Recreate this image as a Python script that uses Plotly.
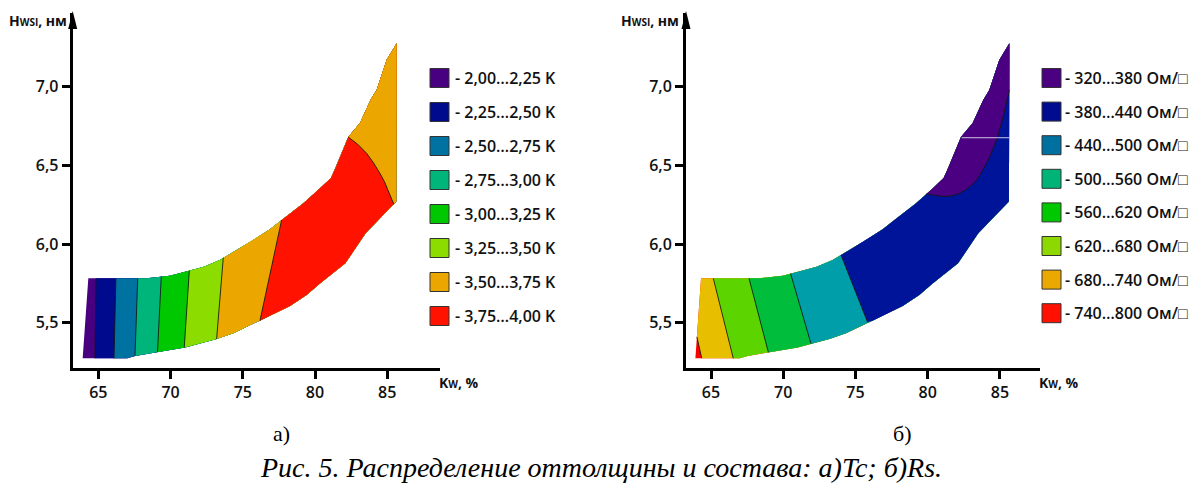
import plotly.graph_objects as go

# ---------------------------------------------------------------
# Outline of the studied (Kw, H) region, shared by both maps
# ---------------------------------------------------------------
BOTTOM_KW = [63.92, 67.0, 67.54, 69.04, 71.0, 73.19, 74.34, 76.19, 78.27, 79.42, 80.34,
             82.1, 83.5, 85.62]
BOTTOM_H = [5.274, 5.274, 5.288, 5.313, 5.343, 5.396, 5.433, 5.513, 5.606, 5.676, 5.75,
            5.878, 6.068, 6.27]
TOP_KW = [64.31, 68.35, 69.96, 71.3, 72.31, 73.42, 74.58, 75.73, 76.88, 77.69, 79.19,
          80.34, 81.1, 81.4, 82.3, 83.11, 83.84, 84.26, 84.95, 85.65]
TOP_H = [5.782, 5.782, 5.799, 5.83, 5.856, 5.899, 5.962, 6.026, 6.094, 6.153, 6.259,
         6.354, 6.42, 6.48, 6.68, 6.77, 6.916, 6.979, 7.17, 7.276]

# ---------------------------------------------------------------
# a) Tc map
# ---------------------------------------------------------------
TC_LABELS = ["- 2,00…2,25 K", "- 2,25…2,50 K", "- 2,50…2,75 K", "- 2,75…3,00 K",
             "- 3,00…3,25 K", "- 3,25…3,50 K", "- 3,50…3,75 K", "- 3,75…4,00 K"]
TC_COLORS = ["#480080", "#000a8c", "#0072a2", "#00b57a",
             "#00c800", "#8cdc00", "#eba700", "#ff1200"]
# band colours from low Kw to high Kw (the last band falls back to 3,50…3,75 K)
TC_BANDS = ["#480080", "#000a8c", "#0072a2", "#00b57a", "#00c800",
            "#8cdc00", "#eba700", "#ff1200", "#eba700"]
# isolines between neighbouring bands, each listed from the lower edge upwards
TC_ISO_KW = [
    [64.77, 64.84],
    [66.09, 66.22],
    [67.54, 67.73],
    [69.10, 69.36],
    [70.95, 71.30],
    [73.19, 73.65],
    [76.19, 77.69],
    [85.45, 85.25, 85.07, 84.80, 84.49, 84.05, 83.57, 82.95, 82.30],
]
TC_ISO_H = [
    [5.274, 5.782],
    [5.274, 5.782],
    [5.288, 5.782],
    [5.314, 5.793],
    [5.342, 5.830],
    [5.396, 5.912],
    [5.513, 6.153],
    [6.254, 6.300, 6.344, 6.398, 6.450, 6.516, 6.577, 6.635, 6.680],
]

# ---------------------------------------------------------------
# б) Rs map
# ---------------------------------------------------------------
RS_LABELS = ["- 320…380 Ом/□", "- 380…440 Ом/□", "- 440…500 Ом/□", "- 500…560 Ом/□",
             "- 560…620 Ом/□", "- 620…680 Ом/□", "- 680…740 Ом/□", "- 740…800 Ом/□"]
RS_COLORS = ["#4b0082", "#000c8f", "#0070a0", "#00b478",
             "#00c800", "#8cd800", "#eba800", "#ff1000"]
RS_BANDS = ["#ff0000", "#e8be00", "#5cd400", "#00be3c", "#009ea8", "#00149a", "#4a0080"]
RS_ISO_KW = [
    [64.36, 64.024],
    [66.54, 65.16],
    [68.97, 67.63],
    [71.92, 70.51],
    [75.84, 74.00],
    [85.65, 85.20, 84.77, 84.19, 83.39, 82.80, 82.23, 81.65, 81.10, 80.40, 79.90],
]
RS_ISO_H = [
    [5.274, 5.41],
    [5.274, 5.782],
    [5.312, 5.782],
    [5.367, 5.812],
    [5.503, 5.930],
    [6.979, 6.800, 6.661, 6.534, 6.405, 6.355, 6.323, 6.306, 6.302, 6.312, 6.318],
]
RS_SEAM_KW = [82.35, 85.65]
RS_SEAM_H = [6.676, 6.676]

# ---------------------------------------------------------------
W, H = 1200, 486


def px(x):
    return x / W


def py(y):
    return 1 - y / H


def whole_region():
    kw = list(BOTTOM_KW) + list(reversed(TOP_KW))
    h = list(BOTTOM_H) + list(reversed(TOP_H))
    return kw + [kw[0]], h + [h[0]]


def region_right_of(iso_kw, iso_h):
    """Part of the region lying on the high-Kw side of an isoline."""
    kw, h = list(iso_kw), list(iso_h)
    for k, v in zip(TOP_KW, TOP_H):
        if k > iso_kw[-1] + 1e-9:
            kw.append(k)
            h.append(v)
    low = [(k, v) for k, v in zip(BOTTOM_KW, BOTTOM_H) if k > iso_kw[0] + 1e-9]
    for k, v in reversed(low):
        kw.append(k)
        h.append(v)
    return kw + [kw[0]], h + [h[0]]


fig = go.Figure()


def add_map(bands, iso_kw, iso_h, xa, ya):
    x, y = whole_region()
    fig.add_trace(go.Scatter(x=x, y=y, xaxis=xa, yaxis=ya, mode="lines", fill="toself",
                             fillcolor=bands[0], line=dict(width=0, color=bands[0]),
                             hoverinfo="skip", showlegend=False))
    for i, (k, v) in enumerate(zip(iso_kw, iso_h)):
        x, y = region_right_of(k, v)
        fig.add_trace(go.Scatter(x=x, y=y, xaxis=xa, yaxis=ya, mode="lines", fill="toself",
                                 fillcolor=bands[i + 1], line=dict(width=0, color=bands[i + 1]),
                                 hoverinfo="skip", showlegend=False))
    for k, v in zip(iso_kw, iso_h):
        fig.add_trace(go.Scatter(x=k, y=v, xaxis=xa, yaxis=ya, mode="lines",
                                 line=dict(width=1, color="rgba(20,20,20,0.85)"),
                                 hoverinfo="skip", showlegend=False))


add_map(TC_BANDS, TC_ISO_KW, TC_ISO_H, "x", "y")
add_map(RS_BANDS, RS_ISO_KW, RS_ISO_H, "x2", "y2")
fig.add_trace(go.Scatter(x=RS_SEAM_KW, y=RS_SEAM_H, xaxis="x2", yaxis="y2", mode="lines",
                         line=dict(width=1, color="rgba(225,215,235,0.9)"),
                         hoverinfo="skip", showlegend=False))

tick_font = dict(family="Open Sans", size=16, color="#111", weight=600)
axis_common = dict(showline=True, linewidth=3, linecolor="#000", ticks="outside",
                   ticklen=8, tickwidth=2.5, tickcolor="#000", showgrid=False,
                   zeroline=False, tickfont=tick_font, fixedrange=True)

Y_RANGE = [5.214, 7.469]
Y_DOMAIN = [py(367.7), py(13)]

fig.update_layout(
    width=W, height=H, margin=dict(l=0, r=0, t=0, b=0),
    paper_bgcolor="white", plot_bgcolor="white", separators=", ",
    xaxis=dict(domain=[px(72.7), px(440)], range=[63.23, 88.65], anchor="y",
               tickvals=[65, 70, 75, 80, 85], **axis_common),
    yaxis=dict(domain=Y_DOMAIN, range=Y_RANGE, anchor="x",
               tickvals=[5.5, 6.0, 6.5, 7.0], tickformat=".1f", **axis_common),
    xaxis2=dict(domain=[px(686), px(1040)], range=[63.27, 87.77], anchor="y2",
                tickvals=[65, 70, 75, 80, 85], **axis_common),
    yaxis2=dict(domain=Y_DOMAIN, range=Y_RANGE, anchor="x2",
                tickvals=[5.5, 6.0, 6.5, 7.0], tickformat=".1f", **axis_common),
)

shapes = []
annotations = []

# arrow heads on the vertical axes and axis titles
for ax_x, title_x in [(72.7, 38), (686, 650)]:
    shapes.append(dict(type="path", xref="paper", yref="paper", line=dict(width=0),
                       fillcolor="#000",
                       path=f"M {px(ax_x)} {py(11)} L {px(ax_x - 4.5)} {py(29)} "
                            f"L {px(ax_x + 4.5)} {py(29)} Z"))
    annotations.append(dict(xref="paper", yref="paper", x=px(title_x), y=py(20),
                            xanchor="center", yanchor="middle", showarrow=False,
                            text="H<span style='font-size:10px'>WSI</span>, нм",
                            font=dict(family="Open Sans", size=14, color="#111", weight=700)))

for kx in [437, 1037]:
    annotations.append(dict(xref="paper", yref="paper", x=px(kx), y=py(382),
                            xanchor="left", yanchor="middle", showarrow=False,
                            text="K<span style='font-size:10px'>W</span>, %",
                            font=dict(family="Open Sans", size=14, color="#111", weight=700)))

# legends
legend_font = dict(family="Open Sans", size=16, color="#111", weight=600)
for i, (lab, col) in enumerate(zip(TC_LABELS, TC_COLORS)):
    yc = 78 + 34.0 * i
    shapes.append(dict(type="rect", xref="paper", yref="paper",
                       x0=px(430), x1=px(449), y0=py(yc + 9.5), y1=py(yc - 9.5),
                       fillcolor=col, line=dict(color="#333", width=1)))
    annotations.append(dict(xref="paper", yref="paper", x=px(453), y=py(yc),
                            xanchor="left", yanchor="middle", showarrow=False,
                            text=lab, font=legend_font))

for i, (lab, col) in enumerate(zip(RS_LABELS, RS_COLORS)):
    yc = 78 + 33.6 * i
    shapes.append(dict(type="rect", xref="paper", yref="paper",
                       x0=px(1042), x1=px(1061), y0=py(yc + 9.5), y1=py(yc - 9.5),
                       fillcolor=col, line=dict(color="#333", width=1)))
    annotations.append(dict(xref="paper", yref="paper", x=px(1063), y=py(yc),
                            xanchor="left", yanchor="middle", showarrow=False,
                            text=lab, font=legend_font))

# panel marks and figure caption
serif = "Liberation Serif"
annotations.append(dict(xref="paper", yref="paper", x=px(281), y=py(433), showarrow=False,
                        xanchor="center", yanchor="middle", text="а)",
                        font=dict(family=serif, size=22, color="#000")))
annotations.append(dict(xref="paper", yref="paper", x=px(902), y=py(433), showarrow=False,
                        xanchor="center", yanchor="middle", text="б)",
                        font=dict(family=serif, size=22, color="#000")))
annotations.append(dict(xref="paper", yref="paper", x=px(601), y=py(467), showarrow=False,
                        xanchor="center", yanchor="middle",
                        text="<i>Рис. 5. Распределение оттолщины и состава: а)Tc; б)Rs.</i>",
                        font=dict(family=serif, size=28, color="#000")))

fig.update_layout(shapes=shapes, annotations=annotations)
fig.write_html("out.html")
